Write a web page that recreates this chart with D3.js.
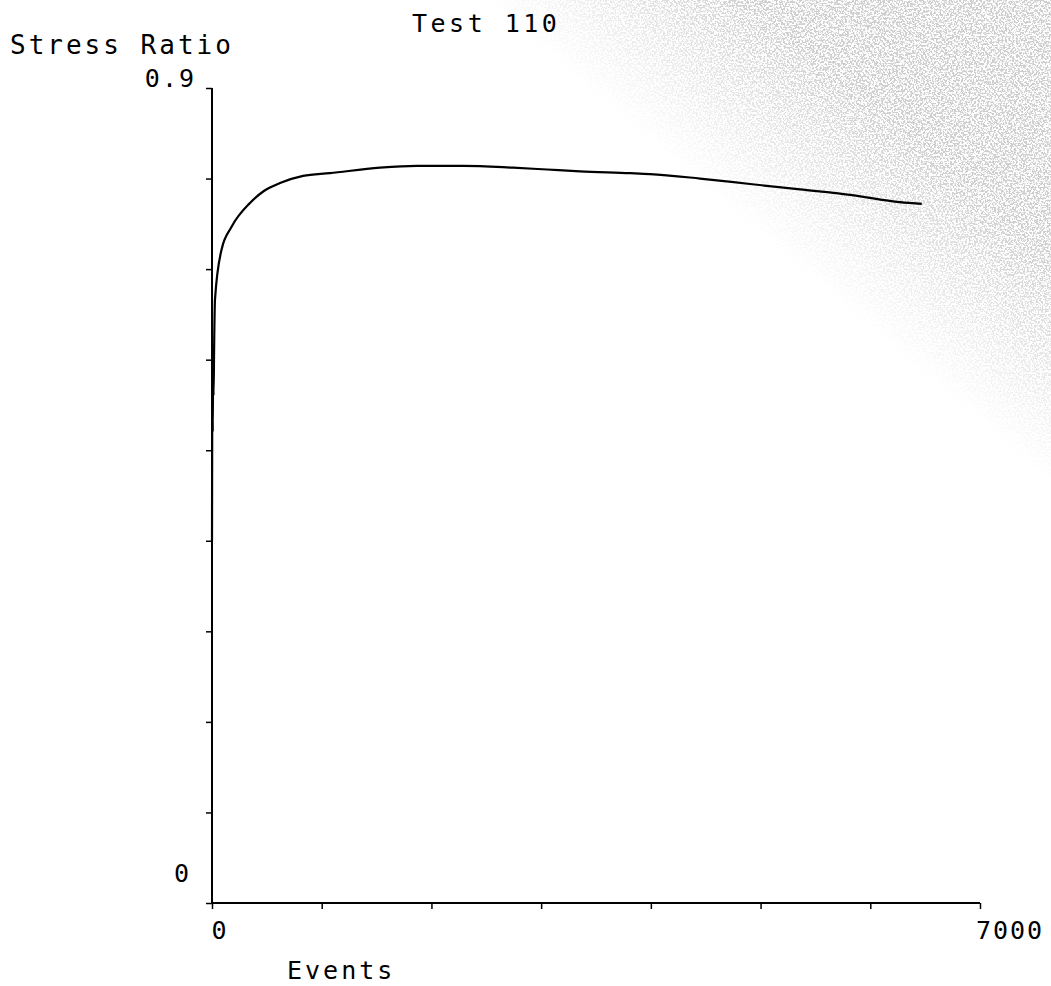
<!DOCTYPE html>
<html>
<head>
<meta charset="utf-8">
<script src="https://cdn.jsdelivr.net/npm/d3@7"></script>
<style>
  body { margin: 0; background: #fff; }
  text { font-family: "DejaVu Sans Mono", monospace; fill: #000; }
</style>
</head>
<body>
<script>
// values
var events = [0, 4, 7, 10, 14, 20, 27, 88, 180, 346, 470, 620, 830, 1075, 1531, 1866,
  2288, 2744, 3054, 3354, 3810, 3992, 4448, 4904, 5360, 5815, 6271, 6469];
var stressRatio = [0.40, 0.58, 0.52, 0.60, 0.56, 0.62, 0.666, 0.722, 0.747, 0.773, 0.786, 0.795, 0.803, 0.806, 0.812, 0.814,
  0.814, 0.812, 0.810, 0.808, 0.806, 0.805, 0.800, 0.794, 0.788, 0.782, 0.774, 0.772];
var xTicks = d3.range(0, 7001, 1000);
var yTicks = d3.range(0, 0.91, 0.1);
var xTickLabels = [[0, "0"], [7000, "7000"]];
var yTickLabels = [[0, "0"], [0.9, "0.9"]];

var width = 1051, height = 986;

var svg = d3.select("body").append("svg")
  .attr("width", width)
  .attr("height", height);

// scanner shading in the upper right corner
var defs = svg.append("defs");
var filter = defs.append("filter").attr("id", "grain")
  .attr("x", 0).attr("y", 0).attr("width", "100%").attr("height", "100%");
filter.append("feTurbulence")
  .attr("type", "fractalNoise")
  .attr("baseFrequency", 0.55)
  .attr("numOctaves", 2)
  .attr("seed", 7);
filter.append("feColorMatrix")
  .attr("type", "matrix")
  .attr("values", "0 0 0 0 0.62  0 0 0 0 0.62  0 0 0 0 0.62  9 0 0 0 -4.1");
var grad = defs.append("linearGradient").attr("id", "fade")
  .attr("gradientUnits", "userSpaceOnUse")
  .attr("x1", 775).attr("y1", 250).attr("x2", 890).attr("y2", 115);
grad.append("stop").attr("offset", 0).attr("stop-color", "#fff").attr("stop-opacity", 0);
grad.append("stop").attr("offset", 0.4).attr("stop-color", "#fff").attr("stop-opacity", 0.4);
grad.append("stop").attr("offset", 1).attr("stop-color", "#fff").attr("stop-opacity", 1);
defs.append("mask").attr("id", "fadeMask")
  .append("rect").attr("width", width).attr("height", height).attr("fill", "url(#fade)");

svg.append("rect")
  .attr("width", width).attr("height", height)
  .attr("filter", "url(#grain)")
  .attr("mask", "url(#fadeMask)");

var x = d3.scaleLinear().domain([0, 7000]).range([212, 980]);
var y = d3.scaleLinear().domain([0, 0.9]).range([903, 88]);

var g = svg.append("g");

// axes
var xAxis = d3.axisBottom(x).tickValues(xTicks).tickSize(6).tickFormat("");
var yAxis = d3.axisLeft(y).tickValues(yTicks).tickSize(6).tickFormat("");

var xg = g.append("g").attr("transform", "translate(0," + y(0) + ")").call(xAxis);
var yg = g.append("g").attr("transform", "translate(" + x(0) + ",0)").call(yAxis);
xg.select(".domain").attr("d", "M" + x(0) + ",0H" + x(7000));
yg.select(".domain").attr("d", "M0," + y(0.9) + "V" + y(0));
g.selectAll(".domain").attr("stroke", "#000").attr("stroke-width", 2);
g.selectAll(".tick line").attr("stroke", "#000").attr("stroke-width", 1.5);

// tick labels
g.selectAll(".xlab").data(xTickLabels).enter().append("text")
  .attr("x", function(d) { return x(d[0]) + (d[0] === 0 ? 8 : 30); })
  .attr("y", 939)
  .attr("text-anchor", "middle")
  .attr("font-size", 25)
  .style("letter-spacing", "2px")
  .text(function(d) { return d[1]; });

g.selectAll(".ylab").data(yTickLabels).enter().append("text")
  .attr("x", function(d) { return d[0] === 0 ? 191 : 196; })
  .attr("y", function(d) { return y(d[0]) + (d[0] === 0 ? -21 : -1); })
  .attr("text-anchor", "end")
  .attr("font-size", 25)
  .style("letter-spacing", "2px")
  .text(function(d) { return d[1]; });

// titles
svg.append("text").attr("x", 10).attr("y", 54)
  .attr("font-size", 26).style("letter-spacing", "3px")
  .text("Stress Ratio");
svg.append("text").attr("x", 412).attr("y", 32)
  .attr("font-size", 25).style("letter-spacing", "3.5px")
  .text("Test 110");
svg.append("text").attr("x", 287).attr("y", 979)
  .attr("font-size", 25).style("letter-spacing", "3px")
  .text("Events");

// curve
var line = d3.line()
  .x(function(d, i) { return x(events[i]); })
  .y(function(d) { return y(d); })
  .curve(d3.curveMonotoneX);

g.append("path")
  .datum(stressRatio)
  .attr("d", line)
  .attr("fill", "none")
  .attr("stroke", "#000")
  .attr("stroke-width", 2.2);
</script>
</body>
</html>
